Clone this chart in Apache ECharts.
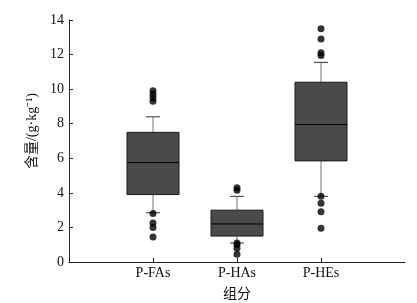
<!DOCTYPE html>
<html>
<head>
<meta charset="utf-8">
<script src="https://cdn.jsdelivr.net/npm/echarts@6/dist/echarts.min.js"></script>
<style>
  html, body { margin: 0; padding: 0; background: #fff; }
  #chart { width: 417px; height: 303px; }
</style>
</head>
<body>
<div id="chart"></div>
<script>
// 组分 (padded with empty slots so the boxes sit at 1, 2, 3 on a 0..4 axis)
const categories = ["", "P-FAs", "P-HAs", "P-HEs", ""];
// [min, Q1, median, Q3, max]
const boxFAs = [2.85, 3.9, 5.75, 7.5, 8.4];
const boxHAs = [1.1, 1.5, 2.2, 3.0, 3.8];
const boxHEs = [3.8, 5.85, 7.95, 10.4, 11.55];
// 离群值
const outFAs = [9.9, 9.7, 9.5, 9.3, 2.8, 2.25, 2.0, 1.45];
const outHAs = [4.3, 4.15, 1.1, 1.0, 0.8, 0.45];
const outHEs = [13.5, 12.9, 12.1, 11.95, 3.8, 3.4, 2.9, 1.95];
const yTicks = [0, 2, 4, 6, 8, 10, 12, 14];

const serif = '"Liberation Serif", "Times New Roman", "Noto Sans CJK SC", serif';

const boxes = [boxFAs, boxHAs, boxHEs].map((b, i) => [i + 1].concat(b));
const outliers = [];
[outFAs, outHAs, outHEs].forEach((arr, i) => {
  arr.forEach(v => outliers.push([i + 1, v]));
});

function renderBox(params, api) {
  const x = api.value(0);
  const pMin = api.coord([x, api.value(1)]);
  const pQ1 = api.coord([x, api.value(2)]);
  const pMed = api.coord([x, api.value(3)]);
  const pQ3 = api.coord([x, api.value(4)]);
  const pMax = api.coord([x, api.value(5)]);
  const cx = pMed[0];
  const half = 26, cap = 7;
  const line = (x1, y1, x2, y2, color) => ({
    type: "line",
    shape: { x1, y1, x2, y2 },
    style: { stroke: color, lineWidth: 1 }
  });
  return {
    type: "group",
    children: [
      line(cx, pMax[1], cx, pQ3[1], "#777"),
      line(cx, pQ1[1], cx, pMin[1], "#777"),
      line(cx - cap, pMax[1], cx + cap, pMax[1], "#333"),
      line(cx - cap, pMin[1], cx + cap, pMin[1], "#333"),
      {
        type: "rect",
        shape: { x: cx - half, y: pQ3[1], width: half * 2, height: pQ1[1] - pQ3[1] },
        style: { fill: "#4a4a4a", stroke: "#1a1a1a", lineWidth: 1 }
      },
      line(cx - half, pMed[1], cx + half, pMed[1], "#000")
    ]
  };
}

const chart = echarts.init(document.getElementById("chart"));
chart.setOption({
  animation: false,
  grid: { left: 69, right: 12, top: 20, bottom: 41, outerBoundsMode: "none", containLabel: false },
  xAxis: {
    type: "category",
    data: categories,
    boundaryGap: false,
    name: "组分",
    nameLocation: "middle",
    nameGap: 25,
    nameTextStyle: { fontFamily: serif, fontSize: 14, color: "#111" },
    axisLine: { lineStyle: { color: "#222" } },
    axisTick: { show: true, inside: true, length: 4, alignWithLabel: true,
      interval: (i) => i >= 1 && i <= 3, lineStyle: { color: "#222" } },
    axisLabel: { fontFamily: serif, fontSize: 14, color: "#111", margin: 4, interval: 0 },
    splitLine: { show: false }
  },
  yAxis: {
    type: "value",
    min: yTicks[0],
    max: yTicks[yTicks.length - 1],
    interval: 2,
    name: "含量/(g·kg⁻¹)",
    nameLocation: "middle",
    nameRotate: 90,
    nameGap: 27,
    nameTextStyle: { fontFamily: serif, fontSize: 14, color: "#111", padding: [0, 0, 0, 20] },
    axisLine: { show: true, lineStyle: { color: "#222" } },
    axisTick: { show: true, inside: true, length: 4, lineStyle: { color: "#222" } },
    axisLabel: { fontFamily: serif, fontSize: 14, color: "#111", margin: 5 },
    splitLine: { show: false }
  },
  series: [
    {
      type: "custom",
      renderItem: renderBox,
      encode: { x: 0, y: [1, 2, 3, 4, 5] },
      data: boxes
    },
    {
      type: "scatter",
      symbol: "circle",
      symbolSize: 7,
      itemStyle: { color: "#000" },
      z: 5,
      data: outliers
    }
  ]
});
</script>
</body>
</html>
